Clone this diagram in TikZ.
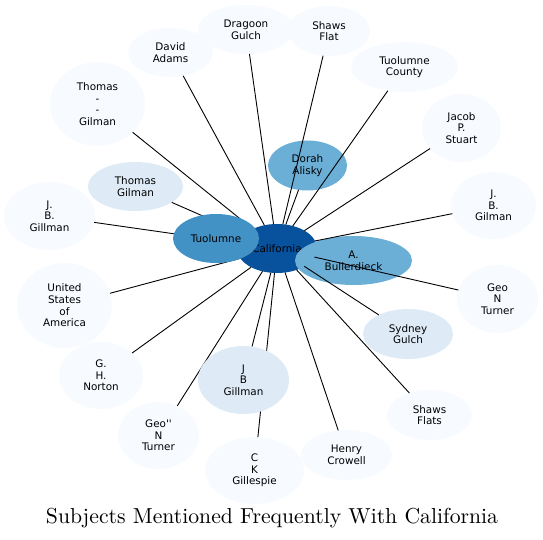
\documentclass[tikz,border=0pt]{standalone}
\usepackage{fontspec}
\newfontfamily\labfont{DejaVu Sans}
\newfontfamily\titlefont{lmroman10-regular.otf}
\usetikzlibrary{shapes.geometric}
\definecolor{bA}{HTML}{F7FBFF}
\definecolor{bB}{HTML}{DEEBF7}
\definecolor{bE}{HTML}{6BAED6}
\definecolor{bF}{HTML}{4292C6}
\definecolor{bH}{HTML}{08519C}
\pgfdeclarelayer{edges}
\pgfdeclarelayer{front}
\pgfsetlayers{main,edges,front}
\begin{document}
\begin{tikzpicture}[x=1bp,y=-1bp,
  nd/.style={ellipse, draw=none, inner sep=0pt, outer sep=0pt, align=center,
    font={\labfont\fontsize{10.4bp}{11.7bp}\selectfont}, text=black},
  sz/.style 2 args={minimum width=#1bp, minimum height=#2bp},
  ed/.style={draw=black, line width=0.9bp}]
\useasboundingbox (0,0) rectangle (543,540);
% centre and strongly linked nodes
\node[nd, fill=bH, sz={80}{49}] (cal) at (277,248.5) {California};
\node[nd, fill=bE, sz={79}{50}] (dorah) at (307.5,165.5) {Dorah\\Alisky};
\node[nd, fill=bE, sz={117}{49}] (bul) at (353.5,260.5) {A.\\Bullerdieck};
\begin{pgfonlayer}{front}
\node[nd, fill=bF, sz={86}{49}] (tuol) at (216,238.5) {Tuolumne};
\node[nd, fill=bB, sz={91}{68}] (jbgb) at (243.5,380) {J\\B\\Gillman};
\end{pgfonlayer}
% outer nodes
\node[nd, fill=bB, sz={95}{49}] (thg) at (135.5,186.5) {Thomas\\Gilman};
\node[nd, fill=bB, sz={90}{50}] (syd) at (408,334) {Sydney\\Gulch};
\node[nd, fill=bA, sz={85}{49}] (dav) at (170.5,52.5) {David\\Adams};
\node[nd, fill=bA, sz={96}{49}] (drg) at (246,29.5) {Dragoon\\Gulch};
\node[nd, fill=bA, sz={82}{50}] (shf) at (329,31) {Shaws\\Flat};
\node[nd, fill=bA, sz={107}{50}] (tco) at (404.5,67) {Tuolumne\\County};
\node[nd, fill=bA, sz={79}{68}] (jac) at (461.5,128) {Jacob\\P.\\Stuart};
\node[nd, fill=bA, sz={85}{67}] (jbr) at (493.5,205.5) {J.\\B.\\Gilman};
\node[nd, fill=bA, sz={81}{68}] (geo) at (497.5,299) {Geo\\N\\Turner};
\node[nd, fill=bA, sz={85}{50}] (shs) at (429.5,415) {Shaws\\Flats};
\node[nd, fill=bA, sz={91}{50}] (hen) at (346.5,455) {Henry\\Crowell};
\node[nd, fill=bA, sz={99}{67}] (ckg) at (254.5,470.5) {C\\K\\Gillespie};
\node[nd, fill=bA, sz={81}{67}] (geq) at (158.5,435.5) {Geo''\\N\\Turner};
\node[nd, fill=bA, sz={84}{67}] (nor) at (101,375.5) {G.\\H.\\Norton};
\node[nd, fill=bA, sz={95}{85}] (usa) at (64.5,305.5) {United\\States\\of\\America};
\node[nd, fill=bA, sz={91}{68}] (jbl) at (49.5,216) {J.\\B.\\Gillman};
\node[nd, fill=bA, sz={95}{84}] (thd) at (97.5,104) {Thomas\\-\\-\\Gilman};
% connectors
\begin{pgfonlayer}{edges}
\foreach \t in {thd,dav,drg,shf,tco,jac,jbr,geo,syd,shs,hen,ckg,geq,nor,usa,jbl,thg,dorah,jbgb}
  \draw[ed] (cal) -- (\t);
\end{pgfonlayer}
% title
\node[anchor=base, inner sep=0pt, font={\titlefont\fontsize{21.7bp}{24bp}\selectfont}] (title) at (272,523) {Subjects Mentioned Frequently With California};
\end{tikzpicture}
\end{document}
